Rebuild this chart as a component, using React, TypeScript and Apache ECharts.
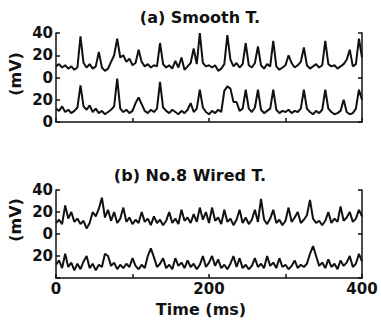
import React, { useEffect, useRef } from "react";
import * as echarts from "echarts";

// sampling step of all traces (ms)
const timeStep = 4;

// (a) Smooth T. — upper and lower traces (mV)
const smoothUpper = [
  10, 12, 9, 11, 8, 10, 7, 9, 37, 13, 9, 12, 8, 10, 23, 9, 6, 8, 14, 20,
  35, 18, 20, 14, 17, 11, 13, 25, 14, 10, 12, 9, 11, 10, 31, 12, 9, 11, 8, 15,
  9, 18, 7, 10, 13, 26, 12, 40, 13, 10, 11, 9, 11, 6, 8, 12, 38, 16, 10, 13,
  9, 12, 31, 11, 9, 13, 28, 11, 8, 12, 10, 33, 10, 7, 9, 11, 20, 13, 9, 11,
  14, 27, 11, 8, 10, 12, 9, 11, 33, 12, 10, 11, 8, 10, 12, 16, 25, 10, 12, 35,
  18,
];
const smoothLower = [
  12, 10, 14, 9, 11, 8, 10, 13, 33, 14, 11, 15, 9, 12, 8, 10, 7, 9, 11, 14,
  39, 12, 9, 11, 8, 10, 17, 22, 16, 10, 8, 11, 9, 12, 36, 13, 10, 8, 11, 9,
  7, 10, 8, 11, 17, 9, 12, 29, 13, 9, 7, 10, 8, 11, 9, 28, 32, 30, 18, 18,
  10, 12, 29, 12, 9, 13, 29, 11, 8, 10, 12, 29, 11, 8, 10, 9, 11, 8, 10, 9,
  12, 29, 12, 9, 7, 10, 8, 11, 29, 12, 9, 7, 8, 10, 20, 9, 7, 8, 12, 29,
  20,
];

// (b) No.8 Wired T. — upper and lower traces (mV)
const wiredUpper = [
  10, 13, 9, 26, 14, 20, 11, 14, 9, 12, 5, 10, 20, 16, 23, 33, 15, 22, 12, 20,
  10, 14, 24, 11, 15, 9, 13, 10, 20, 11, 14, 8, 16, 10, 13, 8, 12, 20, 10, 14,
  9, 22, 12, 15, 10, 18, 11, 24, 13, 20, 10, 24, 12, 15, 9, 22, 11, 14, 8, 13,
  22, 10, 15, 9, 13, 22, 11, 32, 13, 9, 14, 22, 10, 13, 8, 12, 24, 11, 15, 20,
  10, 13, 17, 31, 14, 10, 12, 8, 12, 20, 10, 14, 11, 25, 12, 15, 20, 11, 14, 22,
  16,
];
const wiredLower = [
  12, 16, 9, 22, 10, 14, 7, 13, 8, 15, 20, 9, 13, 7, 12, 10, 22, 20, 11, 14,
  8, 12, 9, 13, 10, 18, 11, 8, 12, 9, 20, 27, 19, 10, 13, 18, 9, 12, 8, 18,
  11, 14, 9, 16, 10, 13, 8, 12, 20, 10, 14, 20, 11, 17, 9, 12, 8, 13, 20, 10,
  18, 9, 12, 8, 11, 18, 10, 13, 9, 20, 11, 14, 9, 18, 10, 12, 8, 11, 16, 9,
  12, 10, 13, 22, 29, 20, 11, 14, 9, 17, 10, 13, 8, 16, 11, 14, 20, 10, 13, 22,
  15,
];

// vertical offset of the upper trace in each panel (mV)
const traceOffset = 40;
// tick labels of the stacked y scale at 0, 20, 40, 60, 80
const yLabelsA = ["0", "20", "0", "20", "40"];
const yLabelsB = ["", "20", "0", "20", "40"];
const xLabelValues = [0, 200, 400];

const FONT = "DejaVu Sans";
const INK = "#111";

function toPoints(values: number[], offset: number) {
  return values.map((v, i) => [i * timeStep, v + offset]);
}

export default function App() {
  const ref = useRef<HTMLDivElement>(null);

  useEffect(() => {
    if (!ref.current) return;
    const chart = echarts.init(ref.current, undefined, { renderer: "svg" });

    const grids = [
      { left: 56, top: 33, width: 306, height: 89 },
      { left: 56, top: 190, width: 306, height: 88 },
    ];

    const xAxis = [0, 1].map((g) => ({
      type: "value",
      gridIndex: g,
      min: 0,
      max: 400,
      interval: 100,
      axisLine: { show: true, lineStyle: { color: INK, width: 1.5 } },
      axisTick: { show: true, inside: true, length: 4, lineStyle: { color: INK, width: 1.5 } },
      splitLine: { show: false },
      axisLabel: {
        show: g === 1,
        margin: 3,
        color: INK,
        fontFamily: FONT,
        fontWeight: "bold",
        fontSize: 15,
        lineHeight: 15,
        formatter: (v: number) => (xLabelValues.includes(v) ? String(v) : ""),
      },
    }));

    const leftY = [yLabelsA, yLabelsB].map((labels, g) => ({
      type: "value",
      gridIndex: g,
      position: "left",
      min: 0,
      max: 80,
      interval: 20,
      axisLine: { show: true, lineStyle: { color: INK, width: 1.5 } },
      axisTick: { show: true, inside: true, length: 4, lineStyle: { color: INK, width: 1.5 } },
      splitLine: { show: false },
      axisLabel: {
        margin: 3,
        color: INK,
        fontFamily: FONT,
        fontWeight: "bold",
        fontSize: 15,
        formatter: (v: number) => labels[Math.round(v / 20)] ?? "",
      },
    }));
    const rightY = [0, 1].map((g) => ({
      type: "value",
      gridIndex: g,
      position: "right",
      min: 0,
      max: 80,
      interval: 40,
      axisLine: { show: true, onZero: false, lineStyle: { color: INK, width: 1.5 } },
      axisTick: { show: true, inside: true, length: 4, lineStyle: { color: INK, width: 1.5 } },
      splitLine: { show: false },
      axisLabel: { show: false },
    }));

    const line = (data: number[][], xi: number, yi: number) => ({
      type: "line",
      xAxisIndex: xi,
      yAxisIndex: yi,
      data,
      showSymbol: false,
      symbol: "none",
      lineStyle: { color: INK, width: 2 },
      z: 3,
    });

    const label = (text: string, x: number, y: number, size: number, rot = 0) => ({
      type: "text",
      x,
      y,
      rotation: rot,
      style: {
        text,
        textAlign: "center",
        textVerticalAlign: "middle",
        fill: INK,
        fontFamily: FONT,
        fontWeight: "bold",
        fontSize: size,
      },
    });

    chart.setOption({
      animation: false,
      backgroundColor: "#fff",
      grid: grids,
      xAxis,
      yAxis: [...leftY, ...rightY],
      series: [
        line(toPoints(smoothUpper, traceOffset), 0, 0),
        line(toPoints(smoothLower, 0), 0, 0),
        line(toPoints(wiredUpper, traceOffset), 1, 1),
        line(toPoints(wiredLower, 0), 1, 1),
      ],
      graphic: [
        label("(a) Smooth T.", 200, 17, 16),
        label("(b) No.8 Wired T.", 190, 175, 16),
        label("Time (ms)", 201, 309, 16),
        label("(mV)", 15, 74, 16, Math.PI / 2),
        label("(mV)", 15, 220, 16, Math.PI / 2),
      ],
    });

    return () => chart.dispose();
  }, []);

  return (
    <div
      ref={ref}
      style={{ position: "fixed", left: 0, top: 0, width: 381, height: 330 }}
    />
  );
}
